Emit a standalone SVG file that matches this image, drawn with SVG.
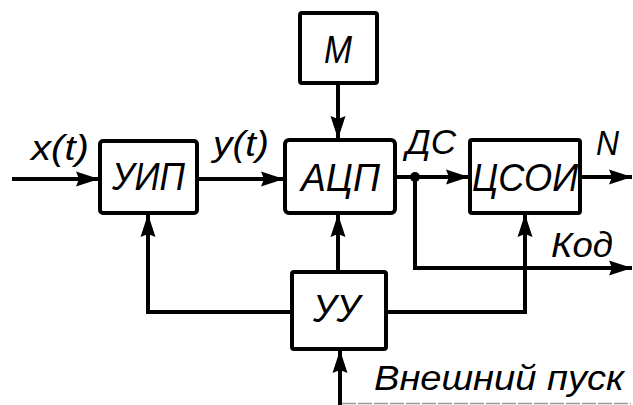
<svg xmlns="http://www.w3.org/2000/svg" width="633" height="405" viewBox="0 0 633 405">
  <style>
    .box { fill: #fff; stroke: #000; stroke-width: 4; }
    .wire { fill: none; stroke: #000; stroke-width: 4; stroke-linejoin: miter; }
    .lbl { font-family: "Liberation Sans", "DejaVu Sans", sans-serif; font-style: italic; fill: #000; }
    .blk { font-size: 38px; }
    .sig { font-size: 35px; }
  </style>
  <defs>
    <marker id="arrow" markerUnits="userSpaceOnUse" markerWidth="26" markerHeight="18" refX="23" refY="9" orient="auto" overflow="visible">
      <path d="M0,1.5 L23,9 L0,16.5 L3,9 Z" fill="#000"/>
    </marker>
  </defs>

  <rect width="633" height="405" fill="#fff"/>

  <!-- connectors -->
  <g id="connectors">
    <path class="wire" d="M12,179 H99" marker-end="url(#arrow)"/>
    <path class="wire" d="M197,179 H284" marker-end="url(#arrow)"/>
    <path class="wire" d="M338,83 V139" marker-end="url(#arrow)"/>
    <path class="wire" d="M395,177 H469" marker-end="url(#arrow)"/>
    <path class="wire" d="M580,177 H632" marker-end="url(#arrow)"/>
    <path class="wire" d="M415,177 V268 H632" marker-end="url(#arrow)"/>
    <circle cx="415" cy="177" r="5" fill="#000"/>
    <path class="wire" d="M338,272 V214" marker-end="url(#arrow)"/>
    <path class="wire" d="M292,312 H148 V214" marker-end="url(#arrow)"/>
    <path class="wire" d="M386,312 H525 V214" marker-end="url(#arrow)"/>
    <path class="wire" d="M340,405 V350" marker-end="url(#arrow)"/>
    <path d="M342,403.5 H631" stroke="#999" stroke-width="1.5" fill="none" stroke-dasharray="14 2"/>
  </g>

  <!-- blocks -->
  <g id="uip">
    <rect class="box" x="100" y="141" width="97" height="72" rx="3"/>
    <text class="lbl blk" x="112" y="190" textLength="73" lengthAdjust="spacingAndGlyphs">УИП</text>
  </g>
  <g id="m">
    <rect class="box" x="300" y="13" width="77" height="70" rx="2"/>
    <text class="lbl blk" x="324" y="63" textLength="28" lengthAdjust="spacingAndGlyphs">M</text>
  </g>
  <g id="acp">
    <rect class="box" x="285" y="140" width="110" height="73" rx="4"/>
    <text class="lbl blk" x="301" y="191" textLength="79" lengthAdjust="spacingAndGlyphs">АЦП</text>
  </g>
  <g id="csoi">
    <rect class="box" x="470" y="140" width="110" height="73" rx="2"/>
    <text class="lbl blk" x="472" y="191" textLength="106" lengthAdjust="spacingAndGlyphs">ЦСОИ</text>
  </g>
  <g id="uu">
    <rect class="box" x="292" y="272" width="94" height="77" rx="2"/>
    <text class="lbl blk" x="313" y="322" font-size="41" textLength="47" lengthAdjust="spacingAndGlyphs">УУ</text>
  </g>

  <!-- signal labels -->
  <g id="labels">
    <text class="lbl sig" x="31" y="160" textLength="58" lengthAdjust="spacingAndGlyphs">x(t)</text>
    <text class="lbl sig" x="213" y="156" textLength="56" lengthAdjust="spacingAndGlyphs">y(t)</text>
    <text class="lbl sig" x="406" y="154" textLength="50" lengthAdjust="spacingAndGlyphs">ДС</text>
    <text class="lbl sig" x="596" y="155" textLength="23" lengthAdjust="spacingAndGlyphs">N</text>
    <text class="lbl sig" x="551" y="257" textLength="62" lengthAdjust="spacingAndGlyphs">Код</text>
    <text class="lbl sig" x="374" y="390" font-size="37" textLength="250" lengthAdjust="spacingAndGlyphs">Внешний пуск</text>
  </g>
</svg>
